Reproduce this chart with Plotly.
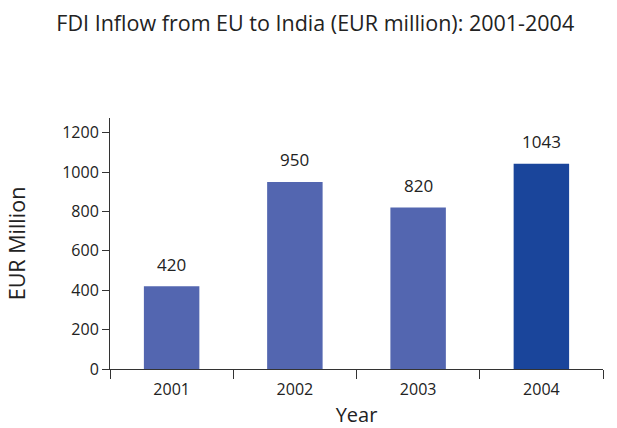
import plotly.graph_objects as go

years = ["2001", "2002", "2003", "2004"]
values = [420, 950, 820, 1043]
bar_colors = ["#5366B0", "#5366B0", "#5366B0", "#1A459B"]
y_ticks = [0, 200, 400, 600, 800, 1000, 1200]

FONT = "Open Sans, Lato, sans-serif"

fig = go.Figure()
fig.add_trace(go.Bar(
    x=years, y=values, marker=dict(color=bar_colors, line=dict(width=0)),
    width=0.45, hoverinfo="skip",
))

for i, v in enumerate(values):
    fig.add_annotation(x=i, y=v, text=str(v), showarrow=False, yshift=22,
                       font=dict(size=17, color="#222222", family=FONT))

fig.update_layout(
    width=617, height=428,
    margin=dict(l=110, r=14, t=118, b=59),
    paper_bgcolor="white", plot_bgcolor="white",
    showlegend=False,
    title=dict(text="FDI Inflow from EU to India (EUR million): 2001-2004",
               x=0.511, xref="container", xanchor="center", y=0.946, yanchor="middle",
               font=dict(size=21.5, color="#222222", family=FONT)),
    font=dict(family=FONT, color="#222222"),
)
fig.update_xaxes(
    type="category", showline=True, linecolor="#333333", linewidth=1,
    ticks="outside", ticklen=9, tickcolor="#333333", tickson="boundaries",
    tickfont=dict(size=16, color="#222222"), ticklabelstandoff=6,
    showgrid=False, zeroline=False, automargin=False,
    title=dict(text="Year", font=dict(size=20), standoff=15),
)
fig.update_yaxes(
    range=[0, 1275], tickvals=y_ticks, showline=True, linecolor="#333333",
    linewidth=1, ticks="outside", ticklen=7, tickcolor="#333333",
    tickfont=dict(size=16, color="#222222"), showgrid=False, zeroline=False,
    automargin=False,
    title=dict(text="EUR Million", font=dict(size=21.5), standoff=30),
)

fig.write_html("out.html")
